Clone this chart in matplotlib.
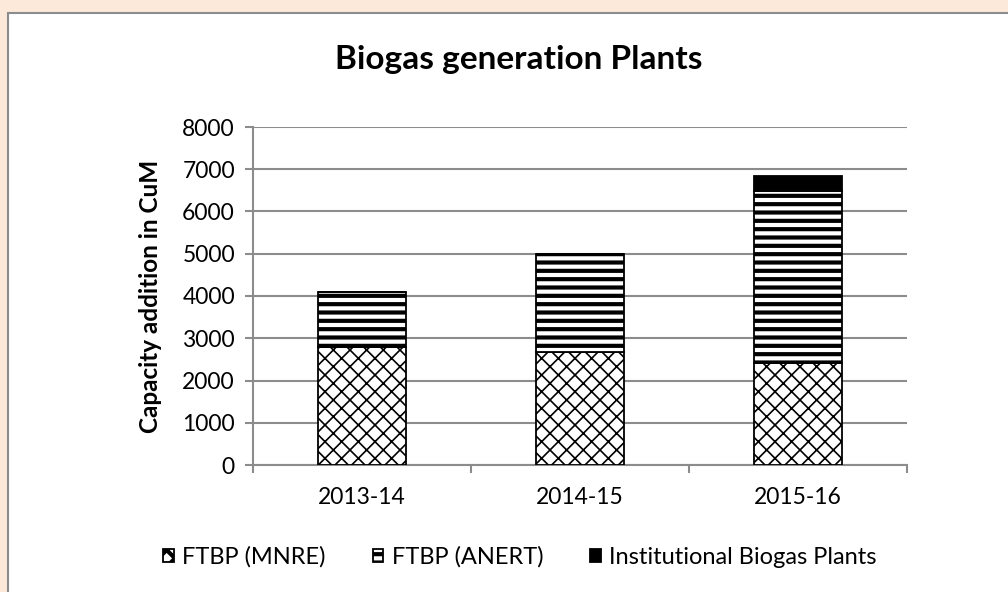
import numpy as np
import matplotlib
matplotlib.use("Agg")
import matplotlib.pyplot as plt
from matplotlib.patches import Rectangle

# data
years = ["2013-14", "2014-15", "2015-16"]
ftbp_mnre = [2790, 2670, 2420]
ftbp_anert = [1310, 2330, 4060]
institutional = [0, 0, 350]
series_names = ["FTBP (MNRE)", "FTBP (ANERT)", "Institutional Biogas Plants"]
y_ticks = [0, 1000, 2000, 3000, 4000, 5000, 6000, 7000, 8000]

plt.rcParams['font.family'] = ['Lato', 'DejaVu Sans']
plt.rcParams['hatch.color'] = 'black'

fig = plt.figure(figsize=(10.08, 5.92), dpi=100, facecolor='#fce9da')

# white inner panel with grey border (runs off the right and bottom edges)
panel = Rectangle((8 / 1008, -0.05), 1.2, 1 - 13 / 592 + 0.05, transform=fig.transFigure,
                  facecolor='white', edgecolor='#8c8c8c', linewidth=1.5, zorder=-5)
fig.patches.append(panel)

ax = fig.add_axes([253 / 1008, 1 - 465 / 592, (907 - 253) / 1008, (465 - 127) / 592])
ax.set_facecolor('none')

x = np.arange(len(years))
w = 0.4
bottom2 = np.array(ftbp_mnre)
bottom3 = bottom2 + np.array(ftbp_anert)

plt.rcParams['hatch.linewidth'] = 1.2
b1 = ax.bar(x, ftbp_mnre, w, color='white', edgecolor='black', linewidth=1.3,
            hatch='xx', label=series_names[0], zorder=3)
plt.rcParams['hatch.linewidth'] = 3.0
b2 = ax.bar(x, ftbp_anert, w, bottom=bottom2, color='white', edgecolor='black',
            linewidth=1.3, hatch='--', label=series_names[1], zorder=3)
b3 = ax.bar(x, institutional, w, bottom=bottom3, color='black', edgecolor='black',
            linewidth=1.3, label=series_names[2], zorder=3)

ax.set_xlim(-0.5, len(years) - 0.5)
ax.set_ylim(0, 8000)
ax.set_yticks(y_ticks)
ax.set_yticklabels([str(v) for v in y_ticks])
ax.set_xticks(x)
ax.set_xticklabels(years)
ax.set_xticks(np.arange(len(years) + 1) - 0.5, minor=True)

ax.grid(axis='y', color='#8c8c8c', linewidth=1.5, zorder=0)
for s in ['top', 'right']:
    ax.spines[s].set_visible(False)
for s in ['left', 'bottom']:
    ax.spines[s].set_color('#8c8c8c')
    ax.spines[s].set_linewidth(1.5)

ax.tick_params(axis='y', length=6, width=1.5, color='#8c8c8c', labelsize=16.5, pad=7)
ax.tick_params(axis='x', which='major', length=0, labelsize=16.5, pad=16)
ax.tick_params(axis='x', which='minor', length=6, width=1.5, color='#8c8c8c')

ax.set_ylabel('Capacity addition in CuM', fontsize=17.5, fontweight='bold')
ax.yaxis.set_label_coords(-0.139, 0.5)

fig.text(519 / 1008, 1 - 60 / 592, 'Biogas generation Plants', ha='center', va='center',
         fontsize=24, fontweight='bold')

leg = fig.legend(handles=[b1, b2, b3], labels=series_names, loc='center',
                 bbox_to_anchor=(520 / 1008, 1 - 557 / 592), ncol=3, frameon=False,
                 fontsize=17, handlelength=0.45, handleheight=0.45, handletextpad=0.35,
                 columnspacing=2.0)

fig.savefig('out.png', dpi=100, facecolor=fig.get_facecolor())
